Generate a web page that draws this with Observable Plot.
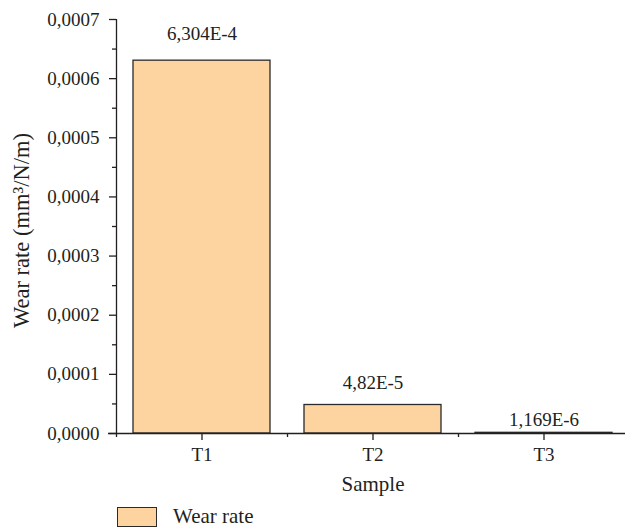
<!DOCTYPE html>
<html><head><meta charset="utf-8">
<script src="https://cdn.jsdelivr.net/npm/d3@7"></script>
<script src="https://cdn.jsdelivr.net/npm/@observablehq/plot@0.6"></script>
<style>
body{margin:0;background:#fff;font-family:"Liberation Serif",serif;color:#231f20;}
#wrap{position:relative;width:625px;height:529px;overflow:hidden;}
#legend{position:absolute;left:0;top:500px;width:625px;height:29px;}
#legend .sw{position:absolute;left:117px;top:7px;width:38px;height:18px;background:#FDD3A0;border:1.3px solid #2a2a2a;}
#legend .lb{position:absolute;left:173px;top:5px;font-size:21px;line-height:22px;}
</style></head><body>
<div id="wrap"><div id="chart"></div><div id="legend"><div class="sw"></div><div class="lb">Wear rate</div></div></div>
<script>
const samples = ["T1", "T2", "T3"];
const wearRates = [6.304e-4, 4.82e-5, 1.169e-6];
const valueLabels = ["6,304E-4", "4,82E-5", "1,169E-6"];
const yTicks = [0, 0.0001, 0.0002, 0.0003, 0.0004, 0.0005, 0.0006, 0.0007];
const yMinorTicks = [0.00005, 0.00015, 0.00025, 0.00035, 0.00045, 0.00055, 0.00065];
const yLabel = "Wear rate (mm³/N/m)";
const xLabel = "Sample";

const data = samples.map((s, i) => ({sample: s, rate: wearRates[i], label: valueLabels[i]}));
const ml = 116, xEnd = 629;
const step = (xEnd - ml) / samples.length;
const fmt = d => d.toFixed(4).replace(".", ",");
const ink = "#231f20";

const chart = Plot.plot({
  width: 625, height: 500,
  marginLeft: ml, marginRight: 0, marginTop: 19, marginBottom: 67,
  style: {fontFamily: "'Liberation Serif', serif", fontSize: "19px", color: ink, background: "#fff", overflow: "visible"},
  x: {type: "band", domain: samples, range: [ml, xEnd], paddingInner: 0.2, paddingOuter: 0.1},
  y: {domain: [0, 0.0007]},
  marks: [
    Plot.barY(data, {x: "sample", y: "rate", fill: "#FDD3A0", stroke: "#2a2a2a", strokeWidth: 1.3}),
    Plot.text(data.filter((d, i) => i === 0), {x: "sample", y: "rate", text: "label", lineAnchor: "bottom", dy: -21, fontSize: 19, fill: ink}),
    Plot.text(data.filter((d, i) => i === 1), {x: "sample", y: "rate", text: "label", lineAnchor: "bottom", dy: -16, fontSize: 19, fill: ink}),
    Plot.text(data.filter((d, i) => i === 2), {x: "sample", y: "rate", text: "label", lineAnchor: "bottom", dy: -7, fontSize: 19, fill: ink}),
    Plot.axisY({ticks: yTicks, tickSize: 7, tickPadding: 10, tickFormat: fmt, label: null, strokeWidth: 1.3, stroke: ink, fontSize: 19}),
    Plot.axisY({ticks: yMinorTicks, tickSize: 4, tickFormat: () => "", label: null, strokeWidth: 1.3, stroke: ink}),
    Plot.axisX({tickSize: 7, tickPadding: 7, label: null, strokeWidth: 1.3, stroke: ink, fontSize: 19}),
    Plot.axisX({tickSize: 4, dx: -step / 2, tickFormat: () => "", label: null, strokeWidth: 1.3, stroke: ink}),
    Plot.ruleY([0], {stroke: ink, strokeWidth: 1.3, insetLeft: -8}),
    Plot.ruleX([samples[0]], {x: d => d, y1: 0, y2: 0.0007, dx: -step / 2, stroke: ink, strokeWidth: 1.3}),
    Plot.text([yLabel], {frameAnchor: "left", textAnchor: "middle", rotate: -90, dx: -88, dy: 4, lineAnchor: "bottom", fontSize: 22.5, fill: ink}),
    Plot.text([xLabel], {frameAnchor: "bottom", textAnchor: "middle", dx: 2, dy: 57, lineAnchor: "bottom", fontSize: 21, fill: ink})
  ]
});
document.getElementById("chart").appendChild(chart);
</script>
</body></html>
